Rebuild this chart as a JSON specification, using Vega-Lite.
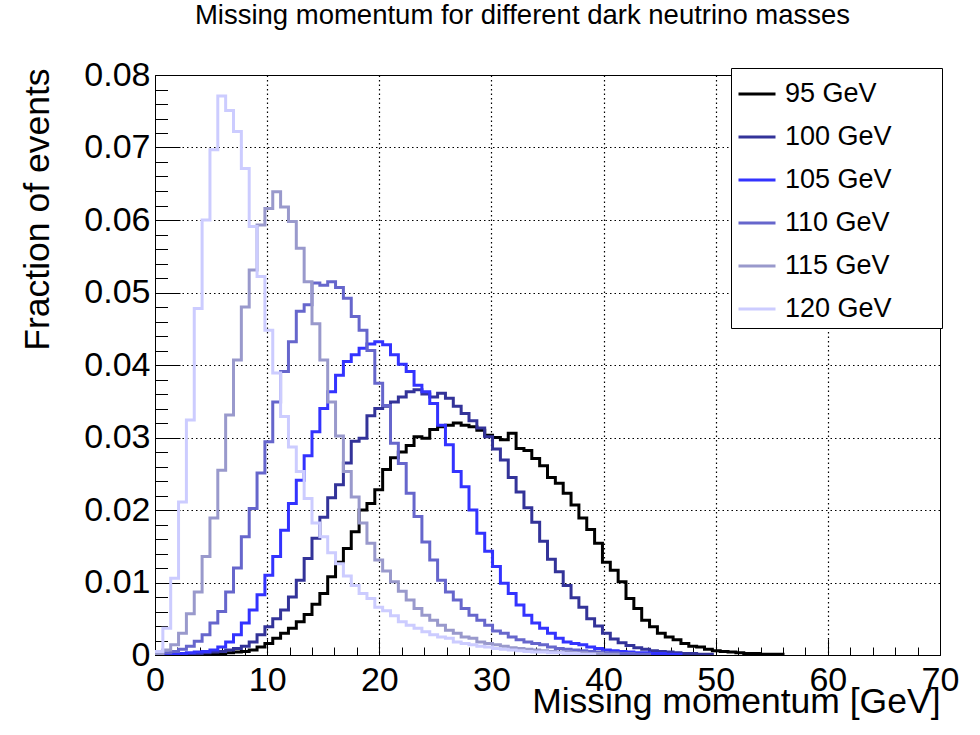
{
"$schema": "https://vega.github.io/schema/vega-lite/v6.json",
"width": 785, "height": 580,
"autosize": {"type": "none"},
"padding": {"left": 155, "top": 75, "right": 40, "bottom": 80},
"background": "white",
"title": {"text": "Missing momentum for different dark neutrino masses", "font": "Liberation Sans", "fontSize": 27.5, "fontWeight": "normal", "color": "black", "anchor": "middle", "dx": -25, "offset": 7, "baseline": "alphabetic"},
"config": {
 "view": {"stroke": "black", "strokeWidth": 1},
 "font": "Liberation Sans",
 "axis": {"labelFont": "Liberation Sans", "titleFont": "Liberation Sans", "labelColor": "black", "titleColor": "black", "domainColor": "black", "tickColor": "black", "gridColor": "black", "gridDash": [1.5, 3], "gridWidth": 1.2, "titleFontWeight": "normal", "labelOverlap": false, "labelFlush": false}
},
"data": {"values": [
{"m":"95 GeV","x":0,"f":0},{"m":"95 GeV","x":0.7,"f":0},{"m":"95 GeV","x":1.4,"f":0},{"m":"95 GeV","x":2.1,"f":0.0001},{"m":"95 GeV","x":2.8,"f":0.0001},{"m":"95 GeV","x":3.5,"f":0.0001},{"m":"95 GeV","x":4.2,"f":0.0001},{"m":"95 GeV","x":4.9,"f":0.0002},{"m":"95 GeV","x":5.6,"f":0.0002},{"m":"95 GeV","x":6.3,"f":0.0003},
{"m":"95 GeV","x":7,"f":0.0004},{"m":"95 GeV","x":7.7,"f":0.0005},{"m":"95 GeV","x":8.4,"f":0.0007},{"m":"95 GeV","x":9.1,"f":0.0011},{"m":"95 GeV","x":9.8,"f":0.0016},{"m":"95 GeV","x":10.5,"f":0.0023},{"m":"95 GeV","x":11.2,"f":0.003},{"m":"95 GeV","x":11.9,"f":0.0037},{"m":"95 GeV","x":12.6,"f":0.0046},{"m":"95 GeV","x":13.3,"f":0.0056},
{"m":"95 GeV","x":14,"f":0.007},{"m":"95 GeV","x":14.7,"f":0.0085},{"m":"95 GeV","x":15.4,"f":0.0108},{"m":"95 GeV","x":16.1,"f":0.0128},{"m":"95 GeV","x":16.8,"f":0.0147},{"m":"95 GeV","x":17.5,"f":0.017},{"m":"95 GeV","x":18.2,"f":0.02},{"m":"95 GeV","x":18.9,"f":0.0209},{"m":"95 GeV","x":19.6,"f":0.0228},{"m":"95 GeV","x":20.3,"f":0.0256},
{"m":"95 GeV","x":21,"f":0.0272},{"m":"95 GeV","x":21.7,"f":0.028},{"m":"95 GeV","x":22.4,"f":0.0289},{"m":"95 GeV","x":23.1,"f":0.0301},{"m":"95 GeV","x":23.8,"f":0.0299},{"m":"95 GeV","x":24.5,"f":0.0311},{"m":"95 GeV","x":25.2,"f":0.0315},{"m":"95 GeV","x":25.9,"f":0.0317},{"m":"95 GeV","x":26.6,"f":0.032},{"m":"95 GeV","x":27.3,"f":0.0317},
{"m":"95 GeV","x":28,"f":0.0315},{"m":"95 GeV","x":28.7,"f":0.031},{"m":"95 GeV","x":29.4,"f":0.0303},{"m":"95 GeV","x":30.1,"f":0.03},{"m":"95 GeV","x":30.8,"f":0.0297},{"m":"95 GeV","x":31.5,"f":0.0306},{"m":"95 GeV","x":32.2,"f":0.0285},{"m":"95 GeV","x":32.9,"f":0.0282},{"m":"95 GeV","x":33.6,"f":0.0271},{"m":"95 GeV","x":34.3,"f":0.0261},
{"m":"95 GeV","x":35,"f":0.0245},{"m":"95 GeV","x":35.7,"f":0.0237},{"m":"95 GeV","x":36.4,"f":0.0223},{"m":"95 GeV","x":37.1,"f":0.0207},{"m":"95 GeV","x":37.8,"f":0.0189},{"m":"95 GeV","x":38.5,"f":0.0173},{"m":"95 GeV","x":39.2,"f":0.0154},{"m":"95 GeV","x":39.9,"f":0.0128},{"m":"95 GeV","x":40.6,"f":0.0117},{"m":"95 GeV","x":41.3,"f":0.0101},
{"m":"95 GeV","x":42,"f":0.0078},{"m":"95 GeV","x":42.7,"f":0.0064},{"m":"95 GeV","x":43.4,"f":0.0048},{"m":"95 GeV","x":44.1,"f":0.0039},{"m":"95 GeV","x":44.8,"f":0.003},{"m":"95 GeV","x":45.5,"f":0.0025},{"m":"95 GeV","x":46.2,"f":0.0021},{"m":"95 GeV","x":46.9,"f":0.0016},{"m":"95 GeV","x":47.6,"f":0.0012},{"m":"95 GeV","x":48.3,"f":0.0011},
{"m":"95 GeV","x":49,"f":0.0008},{"m":"95 GeV","x":49.7,"f":0.0006},{"m":"95 GeV","x":50.4,"f":0.0005},{"m":"95 GeV","x":51.1,"f":0.0004},{"m":"95 GeV","x":51.8,"f":0.0003},{"m":"95 GeV","x":52.5,"f":0.0002},{"m":"95 GeV","x":53.2,"f":0.0002},{"m":"95 GeV","x":53.9,"f":0.0001},{"m":"95 GeV","x":54.6,"f":0.0001},{"m":"95 GeV","x":55.3,"f":0.0001},{"m":"95 GeV","x":56,"f":0},

{"m":"100 GeV","x":0,"f":0},{"m":"100 GeV","x":0.7,"f":0.0001},{"m":"100 GeV","x":1.4,"f":0.0001},{"m":"100 GeV","x":2.1,"f":0.0001},{"m":"100 GeV","x":2.8,"f":0.0002},{"m":"100 GeV","x":3.5,"f":0.0002},{"m":"100 GeV","x":4.2,"f":0.0003},{"m":"100 GeV","x":4.9,"f":0.0004},{"m":"100 GeV","x":5.6,"f":0.0005},{"m":"100 GeV","x":6.3,"f":0.0007},
{"m":"100 GeV","x":7,"f":0.0009},{"m":"100 GeV","x":7.7,"f":0.0012},{"m":"100 GeV","x":8.4,"f":0.0018},{"m":"100 GeV","x":9.1,"f":0.0028},{"m":"100 GeV","x":9.8,"f":0.0039},{"m":"100 GeV","x":10.5,"f":0.005},{"m":"100 GeV","x":11.2,"f":0.0062},{"m":"100 GeV","x":11.9,"f":0.008},{"m":"100 GeV","x":12.6,"f":0.0103},{"m":"100 GeV","x":13.3,"f":0.0133},
{"m":"100 GeV","x":14,"f":0.0161},{"m":"100 GeV","x":14.7,"f":0.019},{"m":"100 GeV","x":15.4,"f":0.0217},{"m":"100 GeV","x":16.1,"f":0.0235},{"m":"100 GeV","x":16.8,"f":0.0265},{"m":"100 GeV","x":17.5,"f":0.0295},{"m":"100 GeV","x":18.2,"f":0.0299},{"m":"100 GeV","x":18.9,"f":0.033},{"m":"100 GeV","x":19.6,"f":0.034},{"m":"100 GeV","x":20.3,"f":0.0343},
{"m":"100 GeV","x":21,"f":0.0349},{"m":"100 GeV","x":21.7,"f":0.0356},{"m":"100 GeV","x":22.4,"f":0.0363},{"m":"100 GeV","x":23.1,"f":0.0366},{"m":"100 GeV","x":23.8,"f":0.036},{"m":"100 GeV","x":24.5,"f":0.0356},{"m":"100 GeV","x":25.2,"f":0.0361},{"m":"100 GeV","x":25.9,"f":0.0354},{"m":"100 GeV","x":26.6,"f":0.0343},{"m":"100 GeV","x":27.3,"f":0.0333},
{"m":"100 GeV","x":28,"f":0.0323},{"m":"100 GeV","x":28.7,"f":0.0313},{"m":"100 GeV","x":29.4,"f":0.0301},{"m":"100 GeV","x":30.1,"f":0.0284},{"m":"100 GeV","x":30.8,"f":0.0269},{"m":"100 GeV","x":31.5,"f":0.0245},{"m":"100 GeV","x":32.2,"f":0.0225},{"m":"100 GeV","x":32.9,"f":0.0203},{"m":"100 GeV","x":33.6,"f":0.0183},{"m":"100 GeV","x":34.3,"f":0.0157},
{"m":"100 GeV","x":35,"f":0.0132},{"m":"100 GeV","x":35.7,"f":0.0115},{"m":"100 GeV","x":36.4,"f":0.0096},{"m":"100 GeV","x":37.1,"f":0.0079},{"m":"100 GeV","x":37.8,"f":0.0066},{"m":"100 GeV","x":38.5,"f":0.005},{"m":"100 GeV","x":39.2,"f":0.004},{"m":"100 GeV","x":39.9,"f":0.003},{"m":"100 GeV","x":40.6,"f":0.0022},{"m":"100 GeV","x":41.3,"f":0.0017},
{"m":"100 GeV","x":42,"f":0.0013},{"m":"100 GeV","x":42.7,"f":0.001},{"m":"100 GeV","x":43.4,"f":0.0008},{"m":"100 GeV","x":44.1,"f":0.0006},{"m":"100 GeV","x":44.8,"f":0.0005},{"m":"100 GeV","x":45.5,"f":0.0004},{"m":"100 GeV","x":46.2,"f":0.0003},{"m":"100 GeV","x":46.9,"f":0.0002},{"m":"100 GeV","x":47.6,"f":0.0002},{"m":"100 GeV","x":48.3,"f":0.0001},{"m":"100 GeV","x":49,"f":0.0001},{"m":"100 GeV","x":49.7,"f":0},

{"m":"105 GeV","x":0,"f":0.0001},{"m":"105 GeV","x":0.7,"f":0.0001},{"m":"105 GeV","x":1.4,"f":0.0002},{"m":"105 GeV","x":2.1,"f":0.0002},{"m":"105 GeV","x":2.8,"f":0.0003},{"m":"105 GeV","x":3.5,"f":0.0004},{"m":"105 GeV","x":4.2,"f":0.0005},{"m":"105 GeV","x":4.9,"f":0.0007},{"m":"105 GeV","x":5.6,"f":0.0011},{"m":"105 GeV","x":6.3,"f":0.0018},
{"m":"105 GeV","x":7,"f":0.0028},{"m":"105 GeV","x":7.7,"f":0.0044},{"m":"105 GeV","x":8.4,"f":0.0062},{"m":"105 GeV","x":9.1,"f":0.0083},{"m":"105 GeV","x":9.8,"f":0.011},{"m":"105 GeV","x":10.5,"f":0.0136},{"m":"105 GeV","x":11.2,"f":0.0172},{"m":"105 GeV","x":11.9,"f":0.0209},{"m":"105 GeV","x":12.6,"f":0.0241},{"m":"105 GeV","x":13.3,"f":0.0275},
{"m":"105 GeV","x":14,"f":0.0308},{"m":"105 GeV","x":14.7,"f":0.034},{"m":"105 GeV","x":15.4,"f":0.0363},{"m":"105 GeV","x":16.1,"f":0.0386},{"m":"105 GeV","x":16.8,"f":0.0405},{"m":"105 GeV","x":17.5,"f":0.0414},{"m":"105 GeV","x":18.2,"f":0.0423},{"m":"105 GeV","x":18.9,"f":0.0429},{"m":"105 GeV","x":19.6,"f":0.0432},{"m":"105 GeV","x":20.3,"f":0.0428},
{"m":"105 GeV","x":21,"f":0.0414},{"m":"105 GeV","x":21.7,"f":0.0401},{"m":"105 GeV","x":22.4,"f":0.0391},{"m":"105 GeV","x":23.1,"f":0.0372},{"m":"105 GeV","x":23.8,"f":0.0363},{"m":"105 GeV","x":24.5,"f":0.0347},{"m":"105 GeV","x":25.2,"f":0.0317},{"m":"105 GeV","x":25.9,"f":0.029},{"m":"105 GeV","x":26.6,"f":0.0253},{"m":"105 GeV","x":27.3,"f":0.0232},
{"m":"105 GeV","x":28,"f":0.02},{"m":"105 GeV","x":28.7,"f":0.0168},{"m":"105 GeV","x":29.4,"f":0.0143},{"m":"105 GeV","x":30.1,"f":0.0122},{"m":"105 GeV","x":30.8,"f":0.0099},{"m":"105 GeV","x":31.5,"f":0.0085},{"m":"105 GeV","x":32.2,"f":0.0069},{"m":"105 GeV","x":32.9,"f":0.0055},{"m":"105 GeV","x":33.6,"f":0.0044},{"m":"105 GeV","x":34.3,"f":0.0037},
{"m":"105 GeV","x":35,"f":0.003},{"m":"105 GeV","x":35.7,"f":0.0023},{"m":"105 GeV","x":36.4,"f":0.0018},{"m":"105 GeV","x":37.1,"f":0.0016},{"m":"105 GeV","x":37.8,"f":0.0014},{"m":"105 GeV","x":38.5,"f":0.0011},{"m":"105 GeV","x":39.2,"f":0.0009},{"m":"105 GeV","x":39.9,"f":0.0007},{"m":"105 GeV","x":40.6,"f":0.0006},{"m":"105 GeV","x":41.3,"f":0.0005},
{"m":"105 GeV","x":42,"f":0.0004},{"m":"105 GeV","x":42.7,"f":0.0003},{"m":"105 GeV","x":43.4,"f":0.0003},{"m":"105 GeV","x":44.1,"f":0.0002},{"m":"105 GeV","x":44.8,"f":0.0002},{"m":"105 GeV","x":45.5,"f":0.0001},{"m":"105 GeV","x":46.2,"f":0.0001},{"m":"105 GeV","x":46.9,"f":0},

{"m":"110 GeV","x":0,"f":0.0001},{"m":"110 GeV","x":0.7,"f":0.0003},{"m":"110 GeV","x":1.4,"f":0.0005},{"m":"110 GeV","x":2.1,"f":0.0008},{"m":"110 GeV","x":2.8,"f":0.0012},{"m":"110 GeV","x":3.5,"f":0.0019},{"m":"110 GeV","x":4.2,"f":0.0028},{"m":"110 GeV","x":4.9,"f":0.0044},{"m":"110 GeV","x":5.6,"f":0.006},{"m":"110 GeV","x":6.3,"f":0.0087},
{"m":"110 GeV","x":7,"f":0.012},{"m":"110 GeV","x":7.7,"f":0.0163},{"m":"110 GeV","x":8.4,"f":0.0202},{"m":"110 GeV","x":9.1,"f":0.0251},{"m":"110 GeV","x":9.8,"f":0.0294},{"m":"110 GeV","x":10.5,"f":0.0349},{"m":"110 GeV","x":11.2,"f":0.0391},{"m":"110 GeV","x":11.9,"f":0.0432},{"m":"110 GeV","x":12.6,"f":0.0474},{"m":"110 GeV","x":13.3,"f":0.0483},
{"m":"110 GeV","x":14,"f":0.0513},{"m":"110 GeV","x":14.7,"f":0.051},{"m":"110 GeV","x":15.4,"f":0.0515},{"m":"110 GeV","x":16.1,"f":0.0507},{"m":"110 GeV","x":16.8,"f":0.0492},{"m":"110 GeV","x":17.5,"f":0.0467},{"m":"110 GeV","x":18.2,"f":0.0448},{"m":"110 GeV","x":18.9,"f":0.042},{"m":"110 GeV","x":19.6,"f":0.0375},{"m":"110 GeV","x":20.3,"f":0.0344},
{"m":"110 GeV","x":21,"f":0.0292},{"m":"110 GeV","x":21.7,"f":0.0264},{"m":"110 GeV","x":22.4,"f":0.0223},{"m":"110 GeV","x":23.1,"f":0.0191},{"m":"110 GeV","x":23.8,"f":0.0156},{"m":"110 GeV","x":24.5,"f":0.0131},{"m":"110 GeV","x":25.2,"f":0.0103},{"m":"110 GeV","x":25.9,"f":0.0087},{"m":"110 GeV","x":26.6,"f":0.0076},{"m":"110 GeV","x":27.3,"f":0.0064},
{"m":"110 GeV","x":28,"f":0.0055},{"m":"110 GeV","x":28.7,"f":0.0048},{"m":"110 GeV","x":29.4,"f":0.0041},{"m":"110 GeV","x":30.1,"f":0.0033},{"m":"110 GeV","x":30.8,"f":0.003},{"m":"110 GeV","x":31.5,"f":0.0025},{"m":"110 GeV","x":32.2,"f":0.0021},{"m":"110 GeV","x":32.9,"f":0.0018},{"m":"110 GeV","x":33.6,"f":0.0016},{"m":"110 GeV","x":34.3,"f":0.0014},
{"m":"110 GeV","x":35,"f":0.0011},{"m":"110 GeV","x":35.7,"f":0.0009},{"m":"110 GeV","x":36.4,"f":0.0008},{"m":"110 GeV","x":37.1,"f":0.0007},{"m":"110 GeV","x":37.8,"f":0.0006},{"m":"110 GeV","x":38.5,"f":0.0005},{"m":"110 GeV","x":39.2,"f":0.0004},{"m":"110 GeV","x":39.9,"f":0.0003},{"m":"110 GeV","x":40.6,"f":0.0003},{"m":"110 GeV","x":41.3,"f":0.0002},
{"m":"110 GeV","x":42,"f":0.0002},{"m":"110 GeV","x":42.7,"f":0.0001},{"m":"110 GeV","x":43.4,"f":0.0001},{"m":"110 GeV","x":44.1,"f":0},

{"m":"115 GeV","x":0,"f":0.0002},{"m":"115 GeV","x":0.7,"f":0.0007},{"m":"115 GeV","x":1.4,"f":0.0014},{"m":"115 GeV","x":2.1,"f":0.003},{"m":"115 GeV","x":2.8,"f":0.0057},{"m":"115 GeV","x":3.5,"f":0.0087},{"m":"115 GeV","x":4.2,"f":0.0136},{"m":"115 GeV","x":4.9,"f":0.0189},{"m":"115 GeV","x":5.6,"f":0.0255},{"m":"115 GeV","x":6.3,"f":0.0331},
{"m":"115 GeV","x":7,"f":0.0407},{"m":"115 GeV","x":7.7,"f":0.048},{"m":"115 GeV","x":8.4,"f":0.0531},{"m":"115 GeV","x":9.1,"f":0.0593},{"m":"115 GeV","x":9.8,"f":0.0616},{"m":"115 GeV","x":10.5,"f":0.0639},{"m":"115 GeV","x":11.2,"f":0.0618},{"m":"115 GeV","x":11.9,"f":0.0598},{"m":"115 GeV","x":12.6,"f":0.0561},{"m":"115 GeV","x":13.3,"f":0.0515},
{"m":"115 GeV","x":14,"f":0.0457},{"m":"115 GeV","x":14.7,"f":0.0407},{"m":"115 GeV","x":15.4,"f":0.0349},{"m":"115 GeV","x":16.1,"f":0.0302},{"m":"115 GeV","x":16.8,"f":0.0253},{"m":"115 GeV","x":17.5,"f":0.0218},{"m":"115 GeV","x":18.2,"f":0.0182},{"m":"115 GeV","x":18.9,"f":0.0154},{"m":"115 GeV","x":19.6,"f":0.0131},{"m":"115 GeV","x":20.3,"f":0.0116},
{"m":"115 GeV","x":21,"f":0.0101},{"m":"115 GeV","x":21.7,"f":0.0088},{"m":"115 GeV","x":22.4,"f":0.0076},{"m":"115 GeV","x":23.1,"f":0.0064},{"m":"115 GeV","x":23.8,"f":0.0055},{"m":"115 GeV","x":24.5,"f":0.0048},{"m":"115 GeV","x":25.2,"f":0.0041},{"m":"115 GeV","x":25.9,"f":0.0034},{"m":"115 GeV","x":26.6,"f":0.003},{"m":"115 GeV","x":27.3,"f":0.0025},
{"m":"115 GeV","x":28,"f":0.0023},{"m":"115 GeV","x":28.7,"f":0.0018},{"m":"115 GeV","x":29.4,"f":0.0016},{"m":"115 GeV","x":30.1,"f":0.0014},{"m":"115 GeV","x":30.8,"f":0.0012},{"m":"115 GeV","x":31.5,"f":0.001},{"m":"115 GeV","x":32.2,"f":0.0009},{"m":"115 GeV","x":32.9,"f":0.0008},{"m":"115 GeV","x":33.6,"f":0.0007},{"m":"115 GeV","x":34.3,"f":0.0006},
{"m":"115 GeV","x":35,"f":0.0005},{"m":"115 GeV","x":35.7,"f":0.0004},{"m":"115 GeV","x":36.4,"f":0.0004},{"m":"115 GeV","x":37.1,"f":0.0003},{"m":"115 GeV","x":37.8,"f":0.0003},{"m":"115 GeV","x":38.5,"f":0.0002},{"m":"115 GeV","x":39.2,"f":0.0002},{"m":"115 GeV","x":39.9,"f":0.0001},{"m":"115 GeV","x":40.6,"f":0.0001},{"m":"115 GeV","x":41.3,"f":0},

{"m":"120 GeV","x":0,"f":0.0005},{"m":"120 GeV","x":0.7,"f":0.0037},{"m":"120 GeV","x":1.4,"f":0.0106},{"m":"120 GeV","x":2.1,"f":0.0211},{"m":"120 GeV","x":2.8,"f":0.0324},{"m":"120 GeV","x":3.5,"f":0.0478},{"m":"120 GeV","x":4.2,"f":0.06},{"m":"120 GeV","x":4.9,"f":0.0697},{"m":"120 GeV","x":5.6,"f":0.0771},{"m":"120 GeV","x":6.3,"f":0.0751},
{"m":"120 GeV","x":7,"f":0.0722},{"m":"120 GeV","x":7.7,"f":0.0671},{"m":"120 GeV","x":8.4,"f":0.0591},{"m":"120 GeV","x":9.1,"f":0.0522},{"m":"120 GeV","x":9.8,"f":0.0448},{"m":"120 GeV","x":10.5,"f":0.0389},{"m":"120 GeV","x":11.2,"f":0.0329},{"m":"120 GeV","x":11.9,"f":0.0287},{"m":"120 GeV","x":12.6,"f":0.0253},{"m":"120 GeV","x":13.3,"f":0.0216},
{"m":"120 GeV","x":14,"f":0.0182},{"m":"120 GeV","x":14.7,"f":0.0163},{"m":"120 GeV","x":15.4,"f":0.0141},{"m":"120 GeV","x":16.1,"f":0.0126},{"m":"120 GeV","x":16.8,"f":0.0109},{"m":"120 GeV","x":17.5,"f":0.0096},{"m":"120 GeV","x":18.2,"f":0.0085},{"m":"120 GeV","x":18.9,"f":0.0078},{"m":"120 GeV","x":19.6,"f":0.0066},{"m":"120 GeV","x":20.3,"f":0.0061},
{"m":"120 GeV","x":21,"f":0.0054},{"m":"120 GeV","x":21.7,"f":0.0046},{"m":"120 GeV","x":22.4,"f":0.0041},{"m":"120 GeV","x":23.1,"f":0.0037},{"m":"120 GeV","x":23.8,"f":0.0032},{"m":"120 GeV","x":24.5,"f":0.0028},{"m":"120 GeV","x":25.2,"f":0.0025},{"m":"120 GeV","x":25.9,"f":0.0023},{"m":"120 GeV","x":26.6,"f":0.0018},{"m":"120 GeV","x":27.3,"f":0.0016},
{"m":"120 GeV","x":28,"f":0.0014},{"m":"120 GeV","x":28.7,"f":0.0012},{"m":"120 GeV","x":29.4,"f":0.0011},{"m":"120 GeV","x":30.1,"f":0.0009},{"m":"120 GeV","x":30.8,"f":0.0008},{"m":"120 GeV","x":31.5,"f":0.0007},{"m":"120 GeV","x":32.2,"f":0.0006},{"m":"120 GeV","x":32.9,"f":0.0005},{"m":"120 GeV","x":33.6,"f":0.0004},{"m":"120 GeV","x":34.3,"f":0.0004},
{"m":"120 GeV","x":35,"f":0.0003},{"m":"120 GeV","x":35.7,"f":0.0003},{"m":"120 GeV","x":36.4,"f":0.0002},{"m":"120 GeV","x":37.1,"f":0.0002},{"m":"120 GeV","x":37.8,"f":0.0001},{"m":"120 GeV","x":38.5,"f":0.0001},{"m":"120 GeV","x":39.2,"f":0}
]},
"mark": {"type": "line", "interpolate": "step-after", "strokeWidth": 3, "clip": true},
"encoding": {
 "x": {"field": "x", "type": "quantitative",
  "scale": {"domain": [0, 70], "nice": false, "zero": false},
  "axis": {"title": "Missing momentum [GeV]", "titleFontSize": 35.5, "titleAnchor": "end", "titleAlign": "right", "titleBaseline": "alphabetic", "titleX": 785, "titleY": 57,
   "values": [0,2,4,6,8,10,12,14,16,18,20,22,24,26,28,30,32,34,36,38,40,42,44,46,48,50,52,54,56,58,60,62,64,66,68,70],
   "labelExpr": "datum.value % 10 === 0 ? datum.label : ''",
   "labelFontSize": 34, "labelPadding": 24,
   "tickSize": {"condition": {"test": "datum.value % 10 === 0", "value": -16}, "value": -8},
   "tickWidth": 1,
   "grid": true,
   "gridOpacity": {"condition": {"test": "datum.value % 10 === 0 && datum.value > 0 && datum.value < 70", "value": 1}, "value": 0}
  }},
 "y": {"field": "f", "type": "quantitative",
  "scale": {"domain": [0, 0.08], "nice": false},
  "axis": {"title": "Fraction of events", "titleFontSize": 35.5, "titleAngle": -90, "titleAlign": "right", "titleBaseline": "alphabetic", "titleX": -107, "titleY": -7,
   "values": [0,0.002,0.004,0.006,0.008,0.01,0.012,0.014,0.016,0.018,0.02,0.022,0.024,0.026,0.028,0.03,0.032,0.034,0.036,0.038,0.04,0.042,0.044,0.046,0.048,0.05,0.052,0.054,0.056,0.058,0.06,0.062,0.064,0.066,0.068,0.07,0.072,0.074,0.076,0.078,0.08],
   "labelExpr": "abs(datum.value*100 - round(datum.value*100)) < 0.001 ? (datum.value === 0 ? '0' : format(datum.value, '.2f')) : ''",
   "labelFontSize": 34, "labelPadding": 30,
   "tickSize": {"condition": {"test": "abs(datum.value*100 - round(datum.value*100)) < 0.001", "value": -25}, "value": -12.5},
   "tickWidth": 1,
   "grid": true,
   "gridOpacity": {"condition": {"test": "abs(datum.value*100 - round(datum.value*100)) < 0.001 && datum.value > 0.001 && datum.value < 0.079", "value": 1}, "value": 0}
  }},
 "color": {"field": "m", "type": "nominal",
  "scale": {"domain": ["95 GeV", "100 GeV", "105 GeV", "110 GeV", "115 GeV", "120 GeV"], "range": ["#000000", "#333399", "#3333ff", "#6666cc", "#9999cc", "#ccccff"]},
  "legend": {"orient": "none", "legendX": 576, "legendY": -7,
   "title": "\u00a0", "titleOrient": "right", "titlePadding": 44, "titleFontSize": 2,
   "symbolType": "stroke", "symbolSize": 1369, "symbolStrokeWidth": 3,
   "labelFont": "Liberation Sans", "labelFontSize": 27, "labelColor": "black", "labelOffset": 8, "labelLimit": 400,
   "rowPadding": 10, "padding": 6, "strokeColor": "black", "fillColor": "white"}
 }
}
}
